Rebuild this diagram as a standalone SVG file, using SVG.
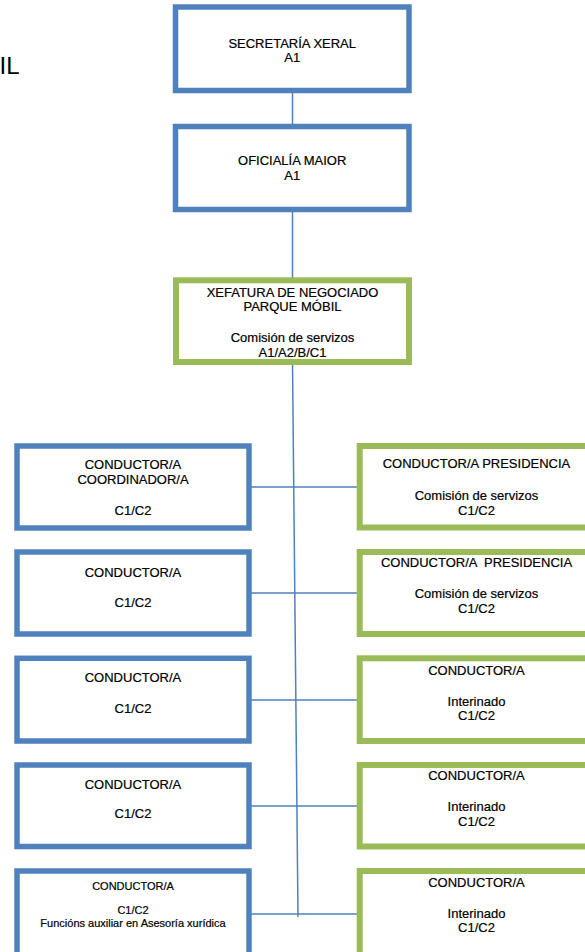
<svg xmlns="http://www.w3.org/2000/svg" width="585" height="952" viewBox="0 0 585 952">
<style>
.bg{fill:#ffffff}
.blue{fill:#ffffff;stroke:#4F81BD;stroke-width:5.5}
.green{fill:#ffffff;stroke:#9BBB59;stroke-width:6}
.con{fill:none;stroke:#4F81BD;stroke-width:1.5}
text{font-family:"Liberation Sans",Arial,sans-serif;font-size:13px;fill:#000;stroke:#000;stroke-width:0.2;text-anchor:middle}
.sm{font-size:11px}
.title{font-size:24px;text-anchor:start;stroke-width:0}
</style>
<rect class="bg" x="0" y="0" width="585" height="952"/>
<text class="title" x="-0.5" y="74">IL</text>
<g id="connectors">
<line class="con" x1="292.5" y1="90" x2="292.5" y2="362"/>
<line class="con" x1="292.5" y1="362" x2="298" y2="917"/>
<line class="con" x1="249" y1="487" x2="360" y2="487"/>
<line class="con" x1="249" y1="593" x2="360" y2="593"/>
<line class="con" x1="249" y1="700" x2="360" y2="700"/>
<line class="con" x1="249" y1="806" x2="360" y2="806"/>
<line class="con" x1="249" y1="914" x2="360" y2="914"/>
</g>
<g id="secretaria">
<rect class="blue" x="175.5" y="7" width="233.5" height="83.5"/>
<text x="292.2" y="47.5">SECRETARÍA XERAL</text>
<text x="292.2" y="62">A1</text>
</g>
<g id="oficialia">
<rect class="blue" x="175.5" y="126.5" width="233.5" height="83"/>
<text x="292.2" y="164.5">OFICIALÍA MAIOR</text>
<text x="292.2" y="180">A1</text>
</g>
<g id="xefatura">
<rect class="green" x="176" y="280.3" width="233" height="81.7"/>
<text x="292.5" y="296.5">XEFATURA DE NEGOCIADO</text>
<text x="292.5" y="311">PARQUE MÓBIL</text>
<text x="292.5" y="341.5">Comisión de servizos</text>
<text x="292.5" y="356.5">A1/A2/B/C1</text>
</g>
<g id="left1">
<rect class="blue" x="17" y="446" width="232" height="82"/>
<text x="133" y="468.5">CONDUCTOR/A</text>
<text x="133" y="483.5">COORDINADOR/A</text>
<text x="133" y="514.5">C1/C2</text>
</g>
<g id="left2">
<rect class="blue" x="17" y="552" width="232" height="82"/>
<text x="133" y="576.5">CONDUCTOR/A</text>
<text x="133" y="607">C1/C2</text>
</g>
<g id="left3">
<rect class="blue" x="17" y="658.3" width="232" height="82.7"/>
<text x="133" y="681.5">CONDUCTOR/A</text>
<text x="133" y="712.5">C1/C2</text>
</g>
<g id="left4">
<rect class="blue" x="17" y="765" width="232" height="81.5"/>
<text x="133" y="788.5">CONDUCTOR/A</text>
<text x="133" y="817.5">C1/C2</text>
</g>
<g id="left5">
<rect class="blue" x="17" y="871" width="232" height="90"/>
<text class="sm" x="133" y="890">CONDUCTOR/A</text>
<text class="sm" x="133" y="913.5">C1/C2</text>
<text class="sm" x="133" y="927">Funcións auxiliar en Asesoría xurídica</text>
</g>
<g id="right1">
<rect class="green" x="359.7" y="446" width="233.5" height="81.5"/>
<text x="476.5" y="467.5">CONDUCTOR/A PRESIDENCIA</text>
<text x="476.5" y="500">Comisión de servizos</text>
<text x="476.5" y="515">C1/C2</text>
</g>
<g id="right2">
<rect class="green" x="359.7" y="552" width="233.5" height="82"/>
<text x="476.5" y="566.5" xml:space="preserve">CONDUCTOR/A  PRESIDENCIA</text>
<text x="476.5" y="598.3">Comisión de servizos</text>
<text x="476.5" y="613.3">C1/C2</text>
</g>
<g id="right3">
<rect class="green" x="359.7" y="658.3" width="233.5" height="82.7"/>
<text x="476.5" y="674.5">CONDUCTOR/A</text>
<text x="476.5" y="705.5">Interinado</text>
<text x="476.5" y="720">C1/C2</text>
</g>
<g id="right4">
<rect class="green" x="359.7" y="765" width="233.5" height="81.5"/>
<text x="476.5" y="779.5">CONDUCTOR/A</text>
<text x="476.5" y="810.5">Interinado</text>
<text x="476.5" y="825.5">C1/C2</text>
</g>
<g id="right5">
<rect class="green" x="359.7" y="871" width="233.5" height="90"/>
<text x="476.5" y="887">CONDUCTOR/A</text>
<text x="476.5" y="917.5">Interinado</text>
<text x="476.5" y="932">C1/C2</text>
</g>
</svg>
